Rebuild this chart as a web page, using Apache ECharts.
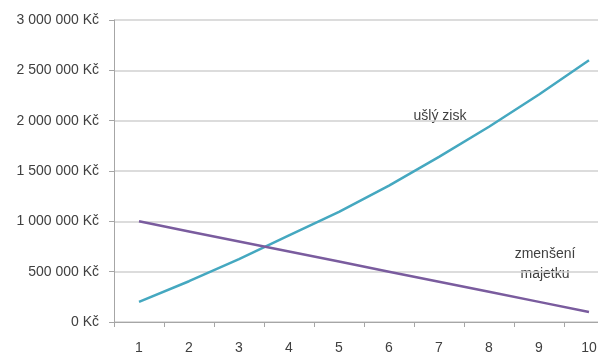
<!DOCTYPE html>
<html>
<head>
<meta charset="utf-8">
<script src="https://cdn.jsdelivr.net/npm/echarts@6/dist/echarts.min.js"></script>
<style>
  html, body { margin: 0; padding: 0; background: #fff; overflow: hidden; }
  #chart { width: 620px; height: 355px; }
</style>
</head>
<body>
<div id="chart"></div>
<script>
// Years 1–10
const years = ['1', '2', '3', '4', '5', '6', '7', '8', '9', '10'];
// Lost profit (ušlý zisk), Kč
const usllyZisk = [200000, 405000, 625000, 860000, 1095000, 1355000, 1640000, 1940000, 2260000, 2600000];
// Decrease of assets (zmenšení majetku), Kč
const zmenseniMajetku = [1000000, 900000, 800000, 700000, 600000, 500000, 400000, 300000, 200000, 100000];
// Value axis ticks
const yTicks = [0, 500000, 1000000, 1500000, 2000000, 2500000, 3000000];

const textColor = '#404040';
const font = 'Liberation Sans, Arial, sans-serif';

function formatKc(v) {
  const s = String(Math.round(v)).replace(/\B(?=(\d{3})+(?!\d))/g, ' ');
  return s + ' Kč';
}

const chart = echarts.init(document.getElementById('chart'), null, { renderer: 'canvas' });
chart.setOption({
  animation: false,
  backgroundColor: '#ffffff',
  grid: { left: 114, top: 20, width: 500, height: 302, containLabel: false },
  xAxis: {
    type: 'category',
    data: years,
    boundaryGap: true,
    axisLine: { lineStyle: { color: '#a6a6a6', width: 1 } },
    axisTick: { show: true, length: 5, alignWithLabel: false, lineStyle: { color: '#a6a6a6' } },
    axisLabel: { color: textColor, fontSize: 14, fontFamily: font, margin: 19 },
    splitLine: { show: false }
  },
  yAxis: {
    type: 'value',
    min: yTicks[0],
    max: yTicks[yTicks.length - 1],
    interval: yTicks[1] - yTicks[0],
    axisLine: { show: true, lineStyle: { color: '#a6a6a6', width: 1 } },
    axisTick: { show: true, length: 5, lineStyle: { color: '#a6a6a6' } },
    axisLabel: { color: textColor, fontSize: 14, fontFamily: font, margin: 15, formatter: formatKc },
    splitLine: { show: true, lineStyle: { color: '#d0d0d0', width: 1.5 } }
  },
  series: [
    {
      name: 'ušlý zisk',
      type: 'line',
      data: usllyZisk,
      symbol: 'none',
      lineStyle: { color: '#45a8c0', width: 2.5 },
      itemStyle: { color: '#45a8c0' }
    },
    {
      name: 'zmenšení majetku',
      type: 'line',
      data: zmenseniMajetku,
      symbol: 'none',
      lineStyle: { color: '#7a5c9e', width: 2.5 },
      itemStyle: { color: '#7a5c9e' }
    }
  ],
  graphic: [
    {
      type: 'text', x: 440, y: 116,
      style: { text: 'ušlý zisk', fill: textColor, font: '14px ' + font, align: 'center', verticalAlign: 'middle' }
    },
    {
      type: 'text', x: 545, y: 244,
      style: { text: 'zmenšení\nmajetku', fill: textColor, font: '14px ' + font, align: 'center', verticalAlign: 'top', lineHeight: 20 }
    }
  ]
});
</script>
</body>
</html>
